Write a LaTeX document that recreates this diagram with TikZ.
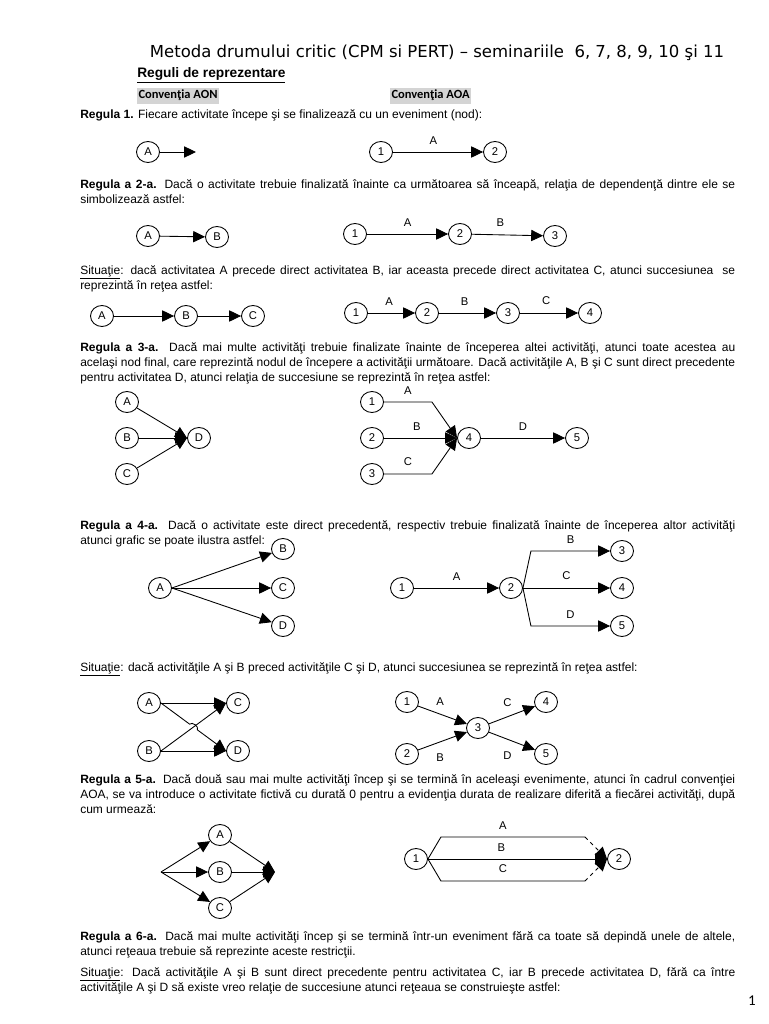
\documentclass[tikz,border=0pt]{standalone}
\usepackage{fontspec}
\setmainfont{Liberation Sans}
\newfontfamily\calfont{Carlito}
\newfontfamily\headfont{DejaVu Sans}
\usetikzlibrary{arrows.meta, shapes.geometric, calc}
\definecolor{hlgray}{HTML}{D4D4D4}
\hyphenpenalty=10000
\tikzset{
  ev/.style={draw, ellipse, inner sep=0pt, minimum width=18.4pt, minimum height=16.8pt,
             line width=0.7pt, font=\fontsize{9}{10}\selectfont},
  act/.style={-{Triangle[length=9.5pt,width=9pt]}, line width=0.7pt},
  lnk/.style={line width=0.7pt},
  lbl/.style={font=\fontsize{9}{10}\selectfont, inner sep=1pt},
  para/.style={anchor=base west, text width=524pt, align=justify, inner sep=0pt,
               font=\fontsize{9.6}{12}\selectfont},
  conv/.style={fill=hlgray, inner xsep=1pt, inner ysep=2pt, anchor=base west,
               font=\calfont\bfseries\fontsize{10}{12}\selectfont},
}

\begin{document}
\begin{tikzpicture}[x=0.8pt, y=-0.8pt]
  \useasboundingbox (0,0) rectangle (768,1024);
  % header
  \node[anchor=base, inner sep=0pt, font=\headfont\fontsize{13.2}{16}\selectfont] (title) at (437,58)
    {Metoda drumului critic (CPM si PERT) – seminariile\ \ 6, 7, 8, 9, 10 şi 11};
  \node[anchor=base west, inner sep=0pt, font=\bfseries\fontsize{11}{13}\selectfont] (sub) at (137,78)
    {\underline{Reguli de reprezentare}};
  \node[conv] (aon) at (137,99) {Convenţia AON};
  \node[conv] (aoa) at (390,99) {Convenţia AOA};

  % Regula 1
  \node[para] (p1) at (80,119) {\textbf{Regula 1.} Fiecare activitate începe şi se finalizează cu un eveniment (nod):};
  \node[ev] (a1) at (148,152) {A};
  \coordinate (a1end) at (196,152);
  \draw[act] (a1) -- (a1end);
  \node[ev] (n11) at (381,152) {1};
  \node[ev] (n12) at (495,152) {2};
  \draw[act] (n11) -- node[lbl, above=5pt, pos=0.45] {A} (n12);

  % Regula 2
  \node[para] (p2) at (80,189) {\textbf{Regula a 2-a.} Dacă o activitate trebuie finalizată înainte ca următoarea să înceapă, relaţia de dependenţă dintre ele se\linebreak simbolizează astfel:};
  \node[ev] (a2) at (148,236) {A};
  \node[ev] (b2) at (217,237) {B};
  \draw[act] (a2) -- (b2);
  \node[ev] (n21) at (355,234) {1};
  \node[ev] (n22) at (460,234) {2};
  \node[ev] (n23) at (555,236) {3};
  \draw[act] (n21) -- node[lbl, above=5pt, pos=0.5] {A} (n22);
  \draw[act] (n22) -- node[lbl, above=5pt, pos=0.4] {B} (n23);

  % Situatie 2
  \node[para] (p3) at (80,274) {\underline{Situaţie}: dacă activitatea A precede direct activitatea B, iar aceasta precede direct activitatea C, atunci succesiunea\ \ se\linebreak reprezintă în reţea astfel:};
  \node[ev] (a3) at (102,316) {A};
  \node[ev] (b3) at (186,316) {B};
  \node[ev] (c3) at (253,316) {C};
  \draw[act] (a3) -- (b3);
  \draw[act] (b3) -- (c3);
  \node[ev] (n31) at (356,313) {1};
  \node[ev] (n32) at (427,313) {2};
  \node[ev] (n33) at (508,313) {3};
  \node[ev] (n34) at (590,313) {4};
  \draw[act] (n31) -- node[lbl, above=5pt, pos=0.45] {A} (n32);
  \draw[act] (n32) -- node[lbl, above=5pt, pos=0.45] {B} (n33);
  \draw[act] (n33) -- node[lbl, above=5pt, pos=0.45] {C} (n34);

  % Regula 3
  \node[para] (p4) at (80,351) {\textbf{Regula a 3-a.} Dacă mai multe activităţi trebuie finalizate înainte de începerea altei activităţi, atunci toate acestea au\linebreak acelaşi nod final, care reprezintă nodul de începere a activităţii următoare. Dacă activităţile A, B şi C sunt direct precedente\linebreak pentru activitatea D, atunci relaţia de succesiune se reprezintă în reţea astfel:};
  \node[ev] (a4) at (127,402) {A};
  \node[ev] (b4) at (127,438) {B};
  \node[ev] (c4) at (127,474) {C};
  \node[ev] (d4) at (199,438) {D};
  \draw[act] (a4) -- (d4.west);
  \draw[act] (b4) -- (d4.west);
  \draw[act] (c4) -- (d4.west);
  \node[ev] (n41) at (372,402) {1};
  \node[ev] (n42) at (372,438) {2};
  \node[ev] (n43) at (372,474) {3};
  \node[ev] (n44) at (469,438) {4};
  \node[ev] (n45) at (577,438) {5};
  \draw[act] (n41.east) -- node[lbl, above=5pt] {A} ++(48,0) -- (n44.west);
  \draw[act] (n42.east) -- node[lbl, above=5pt, pos=0.45] {B} (n44.west);
  \draw[act] (n43.east) -- node[lbl, above=5pt] {C} ++(48,0) -- (n44.west);
  \draw[act] (n44) -- node[lbl, above=5pt, pos=0.5] {D} (n45);

  % Regula 4
  \node[para] (p5) at (80,529) {\textbf{Regula a 4-a.} Dacă o activitate este direct precedentă, respectiv trebuie finalizată înainte de începerea altor activităţi\linebreak atunci grafic se poate ilustra astfel:};
  \node[ev] (a5) at (160,588) {A};
  \node[ev] (b5) at (283,549) {B};
  \node[ev] (c5) at (283,588) {C};
  \node[ev] (d5) at (283,626) {D};
  \draw[act] (a5.east) -- (b5);
  \draw[act] (a5.east) -- (c5);
  \draw[act] (a5.east) -- (d5);
  \node[ev] (n51) at (402,588) {1};
  \node[ev] (n52) at (511,588) {2};
  \node[ev] (n53) at (622,551) {3};
  \node[ev] (n54) at (622,588) {4};
  \node[ev] (n55) at (622,626) {5};
  \draw[act] (n51) -- node[lbl, above=5pt, pos=0.5] {A} (n52);
  \draw[act] (n52.east) -- ++(8,-37) -- node[lbl, above=5pt] {B} (n53.west);
  \draw[act] (n52) -- node[lbl, above=5pt, pos=0.5] {C} (n54);
  \draw[act] (n52.east) -- ++(8,38) -- node[lbl, above=5pt] {D} (n55.west);

  % Situatie 4
  \node[para] (p6) at (80,671) {\underline{Situaţie}: dacă activităţile A şi B preced activităţile C şi D, atunci succesiunea se reprezintă în reţea astfel:};
  \node[ev] (a6) at (149,703) {A};
  \node[ev] (b6) at (149,751) {B};
  \node[ev] (c6) at (238,703) {C};
  \node[ev] (d6) at (238,751) {D};
  \draw[act] (a6.east) -- (c6.west);
  \draw[act] (b6.east) -- (d6.west);
  \draw[act] (b6.east) -- (c6.west);
  \draw[act] (a6.east) -- ($(a6.east)!0.44!(d6.west)$) to[bend left=80] ($(a6.east)!0.56!(d6.west)$) -- (d6.west);
  \node[ev] (n61) at (407,702) {1};
  \node[ev] (n62) at (407,754) {2};
  \node[ev] (n63) at (478,728) {3};
  \node[ev] (n64) at (546,702) {4};
  \node[ev] (n65) at (546,754) {5};
  \draw[act] (n61) -- node[lbl, above=5.5pt, pos=0.45] {A} (n63);
  \draw[act] (n62) -- node[lbl, below=8.5pt, pos=0.45] {B} (n63);
  \draw[act] (n63) -- node[lbl, above=6.5pt, pos=0.4] {C} (n64);
  \draw[act] (n63) -- node[lbl, below=8.5pt, pos=0.4] {D} (n65);

  % Regula 5
  \node[para] (p7) at (80,783) {\textbf{Regula a 5-a.} Dacă două sau mai multe activităţi încep şi se termină în aceleaşi evenimente, atunci în cadrul convenţiei\linebreak AOA, se va introduce o activitate fictivă cu durată 0 pentru a evidenţia durata de realizare diferită a fiecărei activităţi, după\linebreak cum urmează:};
  \coordinate (s7) at (161,872);
  \coordinate (t7) at (275,872);
  \node[ev] (a7) at (220,835) {A};
  \node[ev] (b7) at (220,872) {B};
  \node[ev] (c7) at (220,908) {C};
  \draw[act] (s7) -- (a7);
  \draw[act] (s7) -- (b7);
  \draw[act] (s7) -- (c7);
  \draw[act] (a7) -- (t7);
  \draw[act] (b7) -- (t7);
  \draw[act] (c7) -- (t7);
  \node[ev] (n71) at (416,859) {1};
  \node[ev] (n72) at (619,859) {2};
  \draw[lnk] (n71.east) -- ++(13,-22) -- node[lbl, above=5pt, pos=0.43] {A} ++(144,0) coordinate (ta7);
  \draw[act] (n71.east) -- node[lbl, above=4.5pt, pos=0.41] {B} (n72.west);
  \draw[lnk] (n71.east) -- ++(13,22) -- node[lbl, above=5pt, pos=0.43] {C} ++(144,0) coordinate (tc7);
  \draw[act, dashed] (ta7) -- (n72.west);
  \draw[act, dashed] (tc7) -- (n72.west);

  % Regula 6
  \node[para] (p8) at (80,940) {\textbf{Regula a 6-a.} Dacă mai multe activităţi încep şi se termină într-un eveniment fără ca toate să depindă unele de altele,\linebreak atunci reţeaua trebuie să reprezinte aceste restricţii.};
  \node[para] (p9) at (80,976) {\underline{Situaţie}: Dacă activităţile A şi B sunt direct precedente pentru activitatea C, iar B precede activitatea D, fără ca între\linebreak activităţile A şi D să existe vreo relaţie de succesiune atunci reţeaua se construieşte astfel:};

  \node[anchor=base, font=\calfont\fontsize{12}{14}\selectfont] (pg) at (752,1005) {1};
\end{tikzpicture}
\end{document}
